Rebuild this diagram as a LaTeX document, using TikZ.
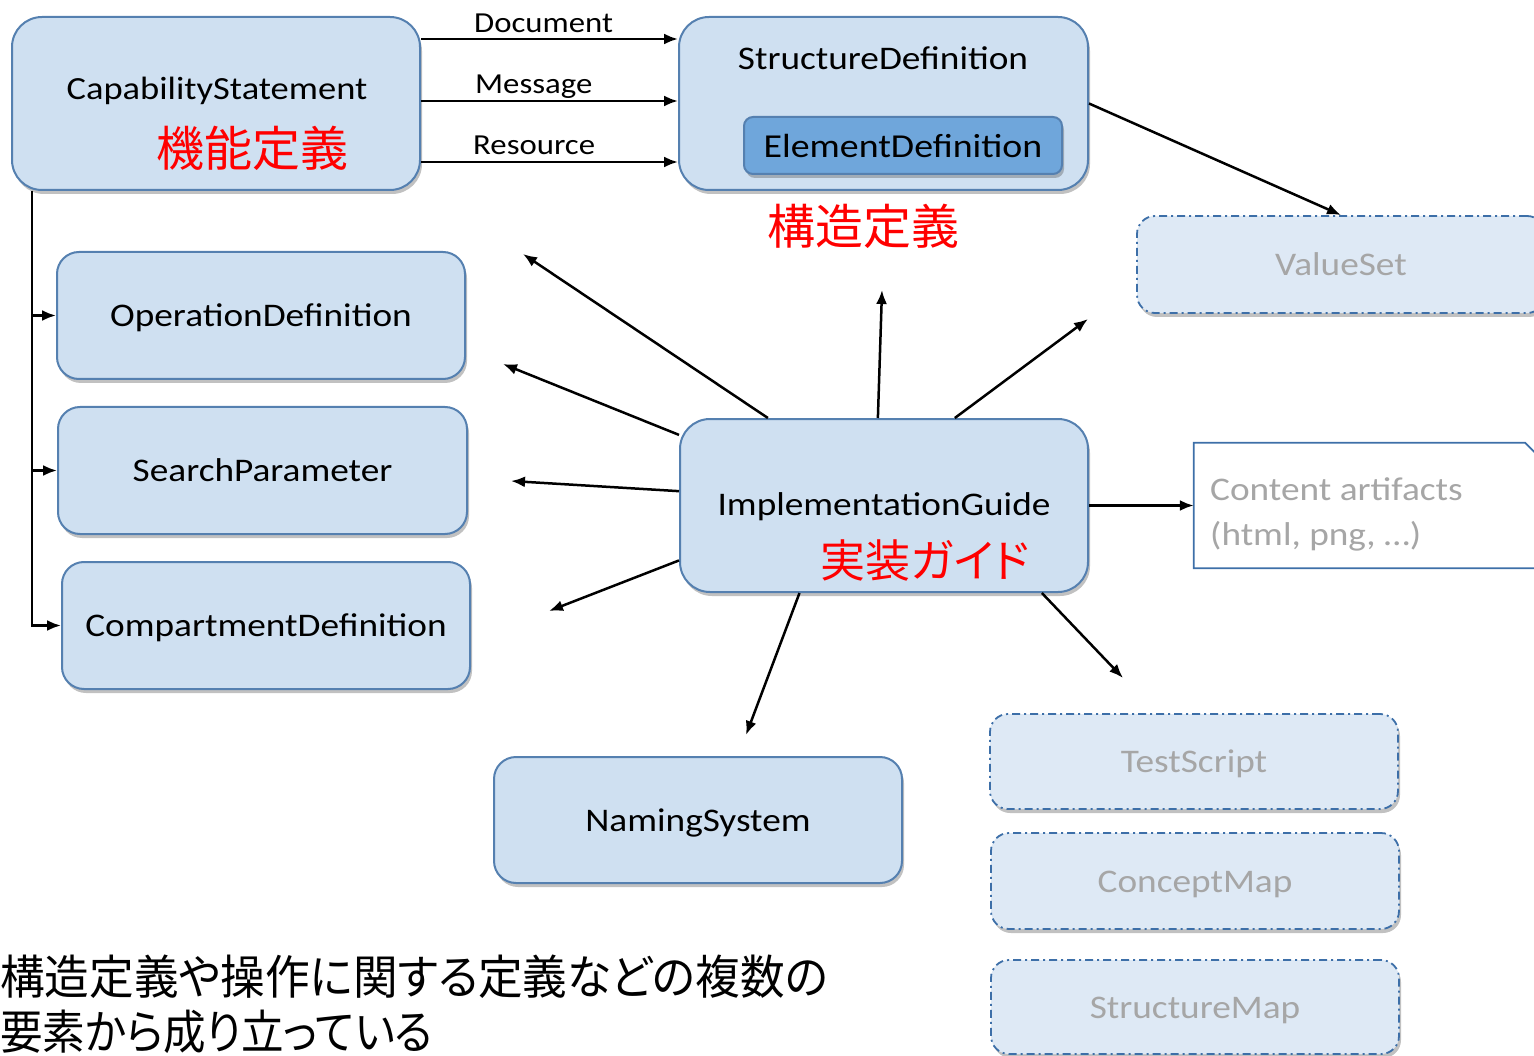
\documentclass[tikz,border=0pt]{standalone}
\usepackage{fontspec}
\setmainfont[FakeStretch=1.13]{Carlito}
\newfontfamily\jp[RawFeature=+palt]{Noto Sans CJK JP}
\newfontfamily\jpn[RawFeature=+palt,FakeStretch=0.95]{Noto Sans CJK JP}
\newfontfamily\jpm[RawFeature=+palt,FakeStretch=0.905]{Noto Sans CJK JP}
\usetikzlibrary{arrows.meta,shadows,calc}
\definecolor{boxfill}{HTML}{CFE0F1}
\definecolor{boxline}{HTML}{5580B0}
\definecolor{edfill}{HTML}{6FA6DB}
\definecolor{dfill}{HTML}{DEE9F5}
\definecolor{dline}{HTML}{3D6FA8}
\definecolor{gtext}{HTML}{A6A6A6}
\definecolor{jred}{HTML}{FF0000}
\tikzset{
  shad/.style={drop shadow={shadow xshift=2pt,shadow yshift=-4pt,opacity=0.35,fill=black!70}},
  bigbox/.style={draw=boxline,line width=2pt,fill=boxfill,rounded corners=30pt,shad,inner sep=0pt},
  midbox/.style={draw=boxline,line width=2pt,fill=boxfill,rounded corners=22pt,shad,inner sep=0pt,
     font=\fontsize{33}{38}\selectfont,text height=25pt,text depth=3pt},
  dbox/.style={draw=dline,line width=1.8pt,fill=dfill,rounded corners=18pt,shad,inner sep=0pt,
     dash pattern=on 8pt off 4pt on 2pt off 4pt,text=gtext,font=\fontsize{33}{38}\selectfont,
     text height=25pt,text depth=3pt},
  edbox/.style={draw=boxline,line width=2pt,fill=edfill,rounded corners=9pt,shad,inner sep=0pt,
     font=\fontsize{33.5}{38}\selectfont},
  txt/.style={font=\fontsize{33}{38}\selectfont,inner sep=0pt},
  lbl/.style={font=\fontsize{29}{34}\selectfont,inner sep=0pt,anchor=base west},
  red/.style={font=\jp\fontsize{48}{52}\selectfont,text=jred,inner sep=0pt},
  arr/.style={line width=2.5pt,-{Latex[length=14pt,width=11pt]}},
}
\begin{document}
\begin{tikzpicture}[x=1pt,y=-1pt]
\useasboundingbox (0,0) rectangle (1534,1056);
% boxes
\node[bigbox,minimum width=408pt,minimum height=173pt] (cap) at (216,103.5) {};
\node[txt,font=\fontsize{32.3}{38}\selectfont] (captxt) at (217,91) {CapabilityStatement};
\node[red] (capjp) at (252,148) {機能定義};

\node[bigbox,minimum width=409pt,minimum height=173pt] (sd) at (883.5,103.5) {};
\node[txt] (sdtxt) at (883,58) {StructureDefinition};
\node[edbox,minimum width=318pt,minimum height=57pt] (ed) at (903,145.5) {ElementDefinition};
\node[red] (sdjp) at (863,226) {構造定義};

\node[dbox,minimum width=408pt,minimum height=97pt] (vs) at (1341,264.5) {ValueSet};

\node[midbox,minimum width=408pt,minimum height=127pt] (od) at (261,315.5) {OperationDefinition};
\node[midbox,minimum width=409pt,minimum height=127pt] (sp) at (262.5,470.5) {SearchParameter};
\node[midbox,minimum width=408pt,minimum height=127pt] (cd) at (266,625.5) {CompartmentDefinition};

\node[bigbox,minimum width=408pt,minimum height=173pt] (ig) at (884,505.5) {};
\node[txt] (igtxt) at (884,507) {ImplementationGuide};
\node[red,font=\jp\fontsize{45}{50}\selectfont] (igjp) at (925,560) {実装ガイド};

\node[midbox,minimum width=408pt,minimum height=126pt] (ns) at (698,820) {NamingSystem};

\node[dbox,minimum width=408pt,minimum height=95pt] (ts) at (1194,761.5) {TestScript};
\node[dbox,minimum width=408pt,minimum height=96pt] (cm) at (1195,881) {ConceptMap};
\node[dbox,minimum width=408pt,minimum height=94pt] (sm) at (1195,1007) {StructureMap};

% content artifacts
\node[minimum width=351pt,minimum height=125pt,inner sep=0pt] (ca) at (1369.5,505.5) {};
\draw[draw=dline,line width=1.8pt,fill=white] (ca.south west) -- (ca.north west) -- ([xshift=-20pt]ca.north east) -- ([yshift=-20pt]ca.north east) -- (ca.south east) -- cycle;
\node[font=\fontsize{33}{45}\selectfont,text=gtext,align=left,anchor=west,inner sep=0pt] (catxt) at (1210,514) {Content artifacts\\(html, png, \ldots)};

% Capability -> StructureDefinition
\draw[arr] ([yshift=-23pt]cap.north east) -- ([yshift=-23pt]sd.north west);
\draw[arr] ([yshift=2.5pt]cap.east) -- ([yshift=2.5pt]sd.east -| sd.west);
\draw[arr] ([yshift=29pt]cap.south east) -- ([yshift=29pt]sd.south west);
\node[lbl] (ldoc) at (474,33) {Document};
\node[lbl] (lmsg) at (475,94) {Message};
\node[lbl] (lres) at (473,155) {Resource};

% left bracket
\coordinate (br) at ([xshift=21pt]cap.south west);
\draw[arr] (br) |- (od.west);
\draw[arr] (br) |- (sp.west);
\draw[arr] (br) |- (cd.west);

% SD -> ValueSet
\draw[arr] (sd.east) -- (vs.north);

% IG arrows
\coordinate (e1) at (523,254);
\coordinate (e2) at (503,364);
\coordinate (e3) at (511,481);
\coordinate (e4) at (549,611);
\coordinate (e5) at (746,735);
\coordinate (e6) at (1123,678);
\coordinate (e8) at (1088,319);
\coordinate (e9) at (882,290);
\draw[arr] (ig.143) -- (e1);
\draw[arr] (ig.161) -- (e2);
\draw[arr] (ig.176) -- (e3);
\draw[arr] (ig.195) -- (e4);
\draw[arr] (ig.226.5) -- (e5);
\draw[arr] (ig.331) -- (e6);
\draw[arr] (ig.east) -- (ca.west);
\draw[arr] (ig.51.5) -- (e8);
\draw[arr] (ig.94) -- (e9);

% bottom text
\node[font=\jpn\fontsize{47}{50}\selectfont,anchor=base west,inner sep=0pt] (b1) at (0,994) {構造定義や操作に関する定義などの複数の};
\node[font=\jpm\fontsize{47}{50}\selectfont,anchor=base west,inner sep=0pt] (b2) at (0,1049) {要素から成り立っている};
\end{tikzpicture}
\end{document}
